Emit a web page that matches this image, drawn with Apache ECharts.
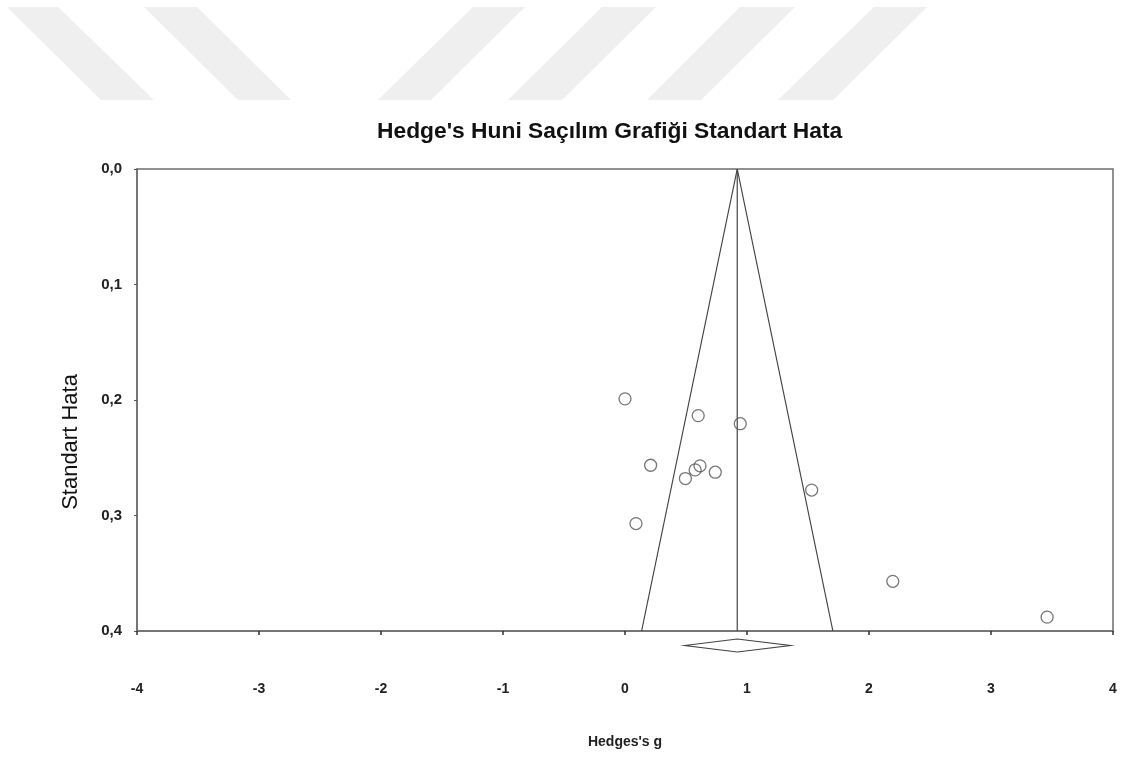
<!DOCTYPE html>
<html>
<head>
<meta charset="utf-8">
<script src="https://cdn.jsdelivr.net/npm/echarts@6/dist/echarts.min.js"></script>
<style>
html,body{margin:0;padding:0;background:#fff;}
#chart{width:1127px;height:758px;}
</style>
</head>
<body>
<div id="chart"></div>
<script>
// ---- data ----
const hedgesG = [0.00, 0.60, 0.945, 0.21, 0.615, 0.575, 0.74, 0.495, 1.53, 0.09, 2.195, 3.46];
const standardError = [0.199, 0.2135, 0.2205, 0.2565, 0.257, 0.2605, 0.2625, 0.268, 0.278, 0.307, 0.357, 0.388];
const pooledEffect = 0.92;
const ciLower = 0.49;
const ciUpper = 1.355;
const funnelSE = [0, 0.4];
const xTicks = [-4, -3, -2, -1, 0, 1, 2, 3, 4];
const yTicks = ['0,0', '0,1', '0,2', '0,3', '0,4'];

const FONT = '"Liberation Sans", Arial, sans-serif';
const chart = echarts.init(document.getElementById('chart'), null, {renderer: 'canvas'});

const funnelLeft = [[pooledEffect - 1.96 * funnelSE[1], funnelSE[1]], [pooledEffect, funnelSE[0]], [pooledEffect + 1.96 * funnelSE[1], funnelSE[1]]];
const meanLine = [[pooledEffect, funnelSE[0]], [pooledEffect, funnelSE[1]]];

function stripe(x1, x2, x3, x4) {
  return {type: 'polygon', silent: true, z: -10,
    shape: {points: [[x1, 7], [x2, 7], [x4, 100], [x3, 100]]},
    style: {fill: '#efefef'}};
}

const option = {
  backgroundColor: '#fff',
  animation: false,
  title: {
    text: "Hedge's Huni Saçılım Grafiği Standart Hata",
    left: 377, top: 120, padding: 0,
    textStyle: {fontFamily: FONT, fontSize: 22.8, fontWeight: 'bold', color: '#111'}
  },
  graphic: [
    stripe(7, 58, 101, 154),
    stripe(144, 197, 238, 291),
    stripe(473, 525, 378, 431),
    stripe(602, 656, 508, 562),
    stripe(740, 795, 647, 701),
    stripe(874, 927, 778, 833),
    {type: 'text', silent: true, x: 71, y: 442, rotation: Math.PI / 2,
      style: {text: 'Standart Hata', font: '22px ' + FONT, fill: '#111', align: 'center', verticalAlign: 'middle'}}
  ],
  grid: {left: 137, right: 14, top: 169, bottom: 127, show: true, borderColor: '#6e6e6e', borderWidth: 1.5, backgroundColor: 'transparent'},
  xAxis: {
    type: 'value', min: -4, max: 4, interval: 1,
    name: "Hedges's g", nameLocation: 'middle', nameGap: 104,
    nameTextStyle: {fontFamily: FONT, fontSize: 14, fontWeight: 'bold', color: '#222'},
    axisLine: {show: true, onZero: false, lineStyle: {color: '#6e6e6e', width: 1.5}},
    axisTick: {show: true, inside: false, length: 4, lineStyle: {color: '#333', width: 1.5}},
    axisLabel: {margin: 51, fontFamily: FONT, fontSize: 14, fontWeight: 'bold', color: '#222',
      formatter: v => String(xTicks[xTicks.indexOf(v)])},
    splitLine: {show: false}
  },
  yAxis: {
    type: 'value', inverse: true, min: 0, max: 0.4, interval: 0.1,
    axisLine: {show: true, onZero: false, lineStyle: {color: '#6e6e6e', width: 1.5}},
    axisTick: {show: true, length: 3, lineStyle: {color: '#555'}},
    axisLabel: {margin: 15, fontFamily: FONT, fontSize: 15, fontWeight: 'bold', color: '#222',
      formatter: v => yTicks[Math.round(v * 10)]},
    splitLine: {show: false}
  },
  series: [
    {type: 'line', data: funnelLeft, symbol: 'none', silent: true,
      lineStyle: {color: '#444', width: 1.2}, z: 2},
    {type: 'line', data: meanLine, symbol: 'none', silent: true,
      lineStyle: {color: '#444', width: 1.2}, z: 2},
    {type: 'scatter', data: hedgesG.map((g, i) => [g, standardError[i]]),
      symbol: 'circle', symbolSize: 12,
      itemStyle: {color: 'rgba(255,255,255,0)', borderColor: '#555', borderWidth: 1.3}, z: 3},
    {type: 'custom', clip: false, silent: true, z: 4,
      data: [[ciLower, pooledEffect, ciUpper]],
      renderItem: function (params, api) {
        const yb = api.coord([0, 0.4])[1] + 14.5;
        const l = api.coord([api.value(0), 0.4])[0];
        const c = api.coord([api.value(1), 0.4])[0];
        const r = api.coord([api.value(2), 0.4])[0];
        return {type: 'polygon', shape: {points: [[l, yb], [c, yb - 6.5], [r, yb], [c, yb + 6.5]]},
          style: {fill: '#fff', stroke: '#444', lineWidth: 1.2}};
      }}
  ]
};
chart.setOption(option);
</script>
</body>
</html>
